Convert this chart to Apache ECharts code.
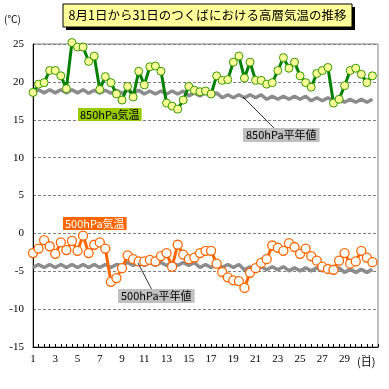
<!DOCTYPE html>
<html><head><meta charset="utf-8">
<script src="https://cdn.jsdelivr.net/npm/echarts@6/dist/echarts.min.js"></script>
<style>html,body{margin:0;padding:0;background:#fff}#c{width:389px;height:389px}</style>
</head><body><div id="c"></div>
<script>
// half-day observation times (day 1 00 .. day 31 12), axis runs to day 32
const startDay = 1, endDay = 32;
const tickLabelDays = [1,3,5,7,9,11,13,15,17,19,21,23,25,27,29,31];
const yTicks = [-15,-10,-5,0,5,10,15,20,25];

const temp850 = [18.6,19.7,19.9,21.5,21.5,20.8,19.1,25.2,24.6,24.6,22.7,23.4,19.0,20.7,19.9,18.4,17.6,19.4,18.0,21.4,19.6,22.0,22.1,21.4,17.2,16.8,16.4,17.6,19.4,18.9,18.7,18.8,18.4,20.8,20.2,20.3,22.6,23.4,20.5,22.6,20.2,20.2,19.7,19.9,21.5,23.2,21.8,22.6,20.8,19.9,19.3,21.1,21.5,21.9,17.2,17.7,19.5,21.5,21.8,21.0,19.9,20.8];
const normal850 = [18.55,18.95,18.55,18.95,18.55,18.95,18.55,18.95,18.55,18.95,
  18.5,18.9,18.5,18.9,18.5,18.9,18.5,18.9,18.5,18.9,
  18.4,18.8,18.4,18.8,18.4,18.8,18.4,18.8,
  18.15,18.55,18.15,18.55,18.15,18.55,
  17.9,18.3,17.9,18.3,17.9,18.3,17.9,18.3,
  17.7,18.1,17.7,18.1,17.7,18.1,17.7,18.1,
  17.5,17.9,17.5,17.9,17.5,17.9,
  17.3,17.7,17.3,17.7,17.3,17.7];
const temp500 = [-2.6,-2.0,-0.9,-1.7,-2.7,-1.2,-2.2,-1.0,-2.3,-0.3,-2.6,-1.5,-1.2,-2.0,-6.4,-5.9,-4.6,-2.9,-3.4,-3.7,-3.7,-3.5,-3.7,-3.0,-2.6,-4.4,-1.5,-2.8,-3.4,-3.2,-2.6,-2.3,-2.3,-4.0,-5.1,-5.8,-6.2,-6.3,-7.2,-5.2,-4.6,-3.9,-3.4,-1.6,-1.9,-2.3,-1.3,-1.8,-2.7,-2.0,-3.0,-3.6,-4.4,-4.7,-4.8,-3.6,-2.6,-4.0,-3.7,-2.3,-3.2,-3.8];
const normal500 = [-4.5,-4.1,-4.5,-4.1,-4.5,-4.1,-4.5,-4.1,-4.5,-4.1,-4.5,-4.1,-4.5,-4.1,-4.5,-4.1,
  -4.25,-3.85,-4.25,-3.85,-4.25,-3.85,-4.25,-3.85,-4.25,-3.85,-4.25,-3.85,-4.25,-3.85,
  -4.5,-4.1,-4.5,-4.1,-4.5,-4.1,-4.5,-4.1,
  -4.8,-4.4,-4.8,-4.4,-4.8,-4.4,-4.8,-4.4,
  -4.95,-4.55,-4.95,-4.55,-4.95,-4.55,-4.95,-4.55,-4.95,-4.55,
  -5.15,-4.75,-5.15,-4.75,-5.15,-4.75];

const times = [];
for (let d = startDay; d <= endDay; d += 0.5) times.push(d);

const chart = echarts.init(document.getElementById('c'), null, {renderer: 'canvas'});
const serif = '"Liberation Serif","Times New Roman",serif';
const gothic = '"Noto Sans CJK JP","Noto Sans",sans-serif';

chart.setOption({
  animation: false,
  backgroundColor: '#fff',
  grid: {left: 33, right: 11, top: 44, bottom: 42, show: true, borderColor: '#808080', borderWidth: 1, backgroundColor: 'transparent'},
  xAxis: {
    type: 'category', data: times, boundaryGap: false,
    axisLine: {onZero: false, lineStyle: {color: '#000', width: 1}},
    axisTick: {show: true, inside: true, length: 3, interval: 0, lineStyle: {color: '#000'}},
    axisLabel: {interval: 0, margin: 7, color: '#000', fontFamily: serif, fontSize: 11,
      formatter: v => tickLabelDays.indexOf(Number(v)) >= 0 ? String(v) : ''},
    splitLine: {show: false}
  },
  yAxis: {
    type: 'value', min: yTicks[0], max: yTicks[yTicks.length-1], interval: 5,
    axisLine: {show: true, onZero: false, lineStyle: {color: '#000', width: 1}},
    axisTick: {show: false},
    axisLabel: {margin: 9, color: '#000', fontFamily: serif, fontSize: 11},
    splitLine: {show: true, lineStyle: {color: '#808080', type: [3, 2], width: 1}}
  },
  series: [
    {name: '850hPa平年値', type: 'line', data: normal850, symbol: 'none', clip: false, lineStyle: {color: '#8c8c8c', width: 3.5}, z: 2},
    {name: '500hPa平年値', type: 'line', data: normal500, symbol: 'none', clip: false, lineStyle: {color: '#8c8c8c', width: 3.5}, z: 2},
    {name: '850hPa気温', type: 'line', data: temp850, symbol: 'circle', symbolSize: 8, clip: false,
      lineStyle: {color: '#008000', width: 3}, itemStyle: {color: '#ffff99', borderColor: '#339900', borderWidth: 1}, z: 3},
    {name: '500hPa気温', type: 'line', data: temp500, symbol: 'circle', symbolSize: 9, clip: false,
      lineStyle: {color: '#ff6600', width: 3}, itemStyle: {color: '#fff', borderColor: '#ff6600', borderWidth: 1.3}, z: 3}
  ],
  graphic: [
    {type: 'rect', shape: {x: 66, y: 7, width: 289, height: 23}, style: {fill: '#000'}, z: 10},
    {type: 'rect', shape: {x: 63, y: 4, width: 289, height: 23}, style: {fill: '#ffff99', stroke: '#000', lineWidth: 1}, z: 11},
    {type: 'text', x: 207.5, y: 15.5, style: {text: '8月1日から31日のつくばにおける高層気温の推移', font: '12.5px ' + gothic, fill: '#000', align: 'center', verticalAlign: 'middle'}, z: 12},
    {type: 'text', x: 4, y: 19, style: {text: '(℃)', font: '10px ' + gothic, fill: '#000', align: 'left', verticalAlign: 'middle'}, z: 12},
    {type: 'text', x: 357, y: 362, style: {text: '(日)', font: '11px ' + gothic, fill: '#000', backgroundColor: '#fff', align: 'left', verticalAlign: 'middle'}, z: 12},
    // series labels
    {type: 'text', x: 78, y: 108, style: {text: '850hPa気温', font: '11px ' + gothic, fill: '#000', backgroundColor: '#99cc00', padding: [1, 2, 0, 2], lineHeight: 12}, z: 12},
    {type: 'line', shape: {x1: 243, y1: 97, x2: 275, y2: 129}, style: {stroke: '#000', lineWidth: 0.8}, z: 12},
    {type: 'text', x: 243, y: 128, style: {text: '850hPa平年値', font: '11px ' + gothic, fill: '#000', backgroundColor: '#c0c0c0', padding: [1, 3, 1, 3], lineHeight: 12}, z: 12},
    {type: 'text', x: 63, y: 217, style: {text: '500hPa気温', font: '11px ' + gothic, fill: '#fff', backgroundColor: '#ff6600', padding: [1, 2, 0, 2], lineHeight: 12}, z: 12},
    {type: 'line', shape: {x1: 138, y1: 263, x2: 152, y2: 290}, style: {stroke: '#000', lineWidth: 0.8}, z: 12},
    {type: 'text', x: 118, y: 289, style: {text: '500hPa平年値', font: '11px ' + gothic, fill: '#000', backgroundColor: '#c0c0c0', padding: [1, 3, 1, 3], lineHeight: 12}, z: 12}
  ]
});
</script></body></html>
